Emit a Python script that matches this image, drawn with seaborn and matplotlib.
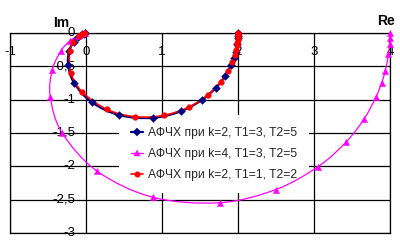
import numpy as np
import matplotlib
matplotlib.use("Agg")
import matplotlib.pyplot as plt
from matplotlib.path import Path
from matplotlib.patches import PathPatch
from matplotlib.lines import Line2D
import seaborn as sns
import pandas as pd

# ---- data ----
series_names = ["АФЧХ при k=2, T1=3, T2=5",
                "АФЧХ при k=4, T1=3, T2=5",
                "АФЧХ при k=2, T1=1, T2=2"]

re_k2_t35 = [2.000, 1.999, 1.998, 1.990, 1.969, 1.945, 1.908, 1.828, 1.710, 1.528,
             1.248, 0.879, 0.440, 0.073, -0.157, -0.235, -0.222, -0.163, -0.108,
             -0.054, -0.032, -0.015, -0.008]
im_k2_t35 = [0.000, -0.038, -0.080, -0.159, -0.285, -0.377, -0.480, -0.647, -0.820, -1.001,
             -1.174, -1.273, -1.232, -1.036, -0.748, -0.480, -0.276, -0.131, -0.062,
             -0.020, -0.009, -0.003, -0.001]

re_k4_t35 = [4.000, 3.999, 3.995, 3.980, 3.937, 3.889, 3.816, 3.656, 3.419, 3.056,
             2.496, 1.758, 0.880, 0.147, -0.314, -0.470, -0.444, -0.326, -0.215,
             -0.108, -0.063, -0.029, -0.016]
im_k4_t35 = [0.000, -0.077, -0.160, -0.319, -0.570, -0.753, -0.960, -1.294, -1.639, -2.003,
             -2.349, -2.546, -2.464, -2.073, -1.497, -0.960, -0.552, -0.263, -0.123,
             -0.039, -0.017, -0.005, -0.002]

re_k2_t12 = [2.000, 2.000, 2.000, 1.999, 1.996, 1.992, 1.987, 1.974, 1.955, 1.923,
             1.866, 1.770, 1.604, 1.360, 1.024, 0.645, 0.275, -0.049, -0.200,
             -0.215, -0.165, -0.092, -0.056, -0.010]
im_k2_t12 = [0.000, -0.014, -0.030, -0.060, -0.108, -0.144, -0.185, -0.256, -0.337, -0.438,
             -0.571, -0.732, -0.926, -1.107, -1.236, -1.256, -1.146, -0.886, -0.600,
             -0.277, -0.141, -0.049, -0.022, -0.002]

xticks = [-1, 0, 1, 2, 3, 4]
xtick_labels = ["-1", "0", "1", "2", "3", "4"]
yticks = [0, -0.5, -1, -1.5, -2, -2.5, -3]
ytick_labels = ["0", "-0,5", "-1", "-1,5", "-2", "-2,5", "-3"]
x_axis_title = "Re"
y_axis_title = "Im"

# ---- style ----
sns.set_style("white")
plt.rcParams["font.family"] = ["Liberation Sans", "DejaVu Sans"]

fig = plt.figure(figsize=(4.0, 2.47), dpi=100)
fig.patch.set_facecolor("white")
ax = fig.add_axes([0.025, 0.0567, 0.95, 0.8097])
ax.set_xlim(-1, 4)
ax.set_ylim(-3, 0)

# grid
ax.set_xticks(xticks)
ax.set_yticks(yticks)
ax.tick_params(length=0, labelbottom=False, labelleft=False)
ax.grid(True, color="black", linewidth=0.9)
ax.set_axisbelow(True)
for sp in ax.spines.values():
    sp.set_color("black")
    sp.set_linewidth(0.9)

# tick labels (inside, Excel style: x labels below the top axis, y labels left of x=0)
for x, lab in zip(xticks, xtick_labels):
    ax.text(x, -0.285, lab, ha="center", va="center", fontsize=9.5, color="black")
for y, lab in zip(yticks, ytick_labels):
    ax.text(-0.14, y, lab, ha="right", va="center", fontsize=9.5, color="black")


def smooth_path(xs, ys):
    P = np.column_stack([xs, ys]).astype(float)
    n = len(P)
    verts = [P[0]]
    codes = [Path.MOVETO]
    for i in range(n - 1):
        p0 = P[i - 1] if i > 0 else P[i]
        p1 = P[i]
        p2 = P[i + 1]
        p3 = P[i + 2] if i + 2 < n else P[i + 1]
        c1 = p1 + (p2 - p0) / 6.0
        c2 = p2 - (p3 - p1) / 6.0
        verts += [c1, c2, p2]
        codes += [Path.CURVE4] * 3
    return Path(verts, codes)


series = [
    (re_k2_t35, im_k2_t35, "#000080", "D", 16, 1.6, 3.6),
    (re_k4_t35, im_k4_t35, "#FF00FF", "^", 20, 0.9, 4.2),
    (re_k2_t12, im_k2_t12, "#FF0000", "o", 17, 1.2, 4.0),
]

handles = []
for (xs, ys, col, mk, s, lw, ms), name in zip(series, series_names):
    patch = PathPatch(smooth_path(xs, ys), fill=False, edgecolor=col,
                      linewidth=lw, zorder=3, clip_on=False)
    ax.add_patch(patch)
    df = pd.DataFrame({"Re": xs, "Im": ys})
    sns.scatterplot(data=df, x="Re", y="Im", ax=ax, marker=mk, s=s, color=col,
                    edgecolor=col, linewidth=0.3, zorder=4, clip_on=False, legend=False)
    handles.append(Line2D([], [], color=col, lw=lw, marker=mk, ms=ms,
                          markeredgecolor=col, markeredgewidth=0.3))

ax.set_xlabel("")
ax.set_ylabel("")

leg = ax.legend(handles, series_names, loc="upper left", bbox_to_anchor=(0.287, 0.59),
                borderaxespad=0, frameon=True, fancybox=False, framealpha=1,
                facecolor="white", edgecolor="none", fontsize=8.7,
                handlelength=1.0, handletextpad=0.4, labelspacing=0.75, borderpad=1.0)
leg.set_zorder(2.5)

# axis titles
fig.text(0.153, 0.908, y_axis_title, ha="center", va="center", fontsize=10,
         fontweight="bold", color="black")
fig.text(0.965, 0.917, x_axis_title, ha="center", va="center", fontsize=10,
         fontweight="bold", color="black")

fig.savefig("out.png", dpi=100, facecolor="white")
